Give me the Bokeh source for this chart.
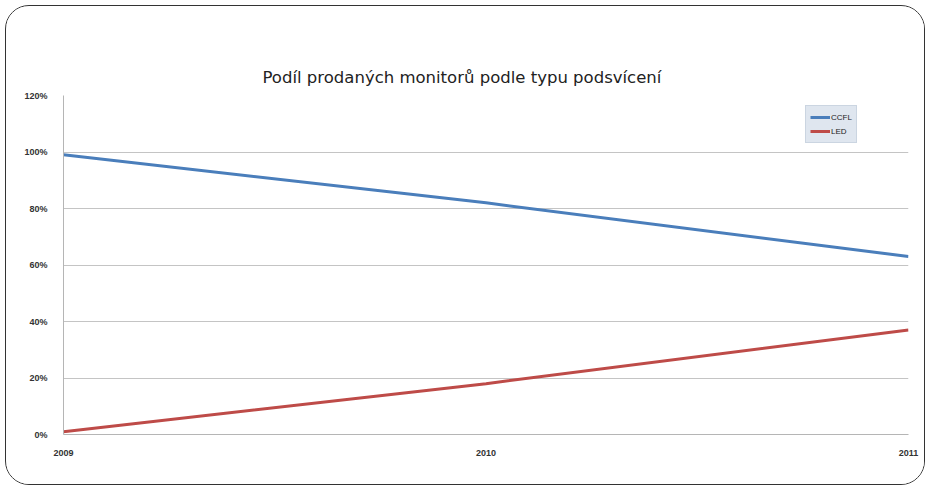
from bokeh.plotting import figure
from bokeh.models import (Range1d, NumeralTickFormatter, FixedTicker,
                          Legend, LegendItem)
from bokeh.embed import file_html
from bokeh.resources import INLINE

years = [2009, 2010, 2011]
ccfl = [0.99, 0.82, 0.63]
led = [0.01, 0.18, 0.37]
y_ticks = [0, 0.2, 0.4, 0.6, 0.8, 1.0, 1.2]
title_text = "Podíl prodaných monitorů podle typu podsvícení"

FONT = "Liberation Sans"

p = figure(width=920, height=480, output_backend="svg", toolbar_location=None,
           x_range=Range1d(2009, 2011), y_range=Range1d(0, 1.2),
           min_border_left=57, min_border_right=18, min_border_top=89,
           min_border_bottom=52, title=title_text)
p.styles = {"margin-left": "5px", "margin-top": "5px",
            "border": "1.5px solid #333333", "border-radius": "24px",
            "overflow": "hidden"}
p.background_fill_color = "white"
p.border_fill_color = "white"
p.outline_line_color = None

p.title.text_font = "DejaVu Sans"
p.title.text_font_size = "16.5px"
p.title.text_font_style = "normal"
p.title.text_color = "#222222"
p.title.align = "left"
p.title.offset = 199
p.title.standoff = 17

# axes
p.xaxis.ticker = FixedTicker(ticks=years)
p.yaxis.ticker = FixedTicker(ticks=y_ticks)
p.yaxis.formatter = NumeralTickFormatter(format="0%")
for ax in (p.xaxis[0], p.yaxis[0]):
    ax.axis_line_color = "#b5b5b5"
    ax.axis_line_width = 1
    ax.major_tick_line_color = None
    ax.minor_tick_line_color = None
    ax.major_label_text_font = FONT
    ax.major_label_text_font_size = "9px"
    ax.major_label_text_font_style = "bold"
    ax.major_label_text_color = "#333333"
p.xaxis.major_label_standoff = 9
p.yaxis.major_label_standoff = 10

p.xgrid.grid_line_color = None
p.ygrid.grid_line_color = "#c4c4c4"
p.ygrid.grid_line_width = 1

r1 = p.line(years, ccfl, line_color="#4a7ebb", line_width=3)
r2 = p.line(years, led, line_color="#be4b48", line_width=3)

legend = Legend(items=[LegendItem(label="CCFL", renderers=[r1]),
                       LegendItem(label="LED", renderers=[r2])],
                location=(742, 291))
legend.background_fill_color = "#dfe6ef"
legend.background_fill_alpha = 1
legend.border_line_color = "#b8c4d4"
legend.label_text_font = FONT
legend.label_text_font_size = "8px"
legend.label_text_color = "#222222"
legend.glyph_width = 20
legend.glyph_height = 14
legend.label_standoff = 1
legend.spacing = 0
legend.padding = 4
legend.margin = 0
legend.label_height = 14
p.add_layout(legend, "center")

open("out.html", "w").write(file_html(p, INLINE))
